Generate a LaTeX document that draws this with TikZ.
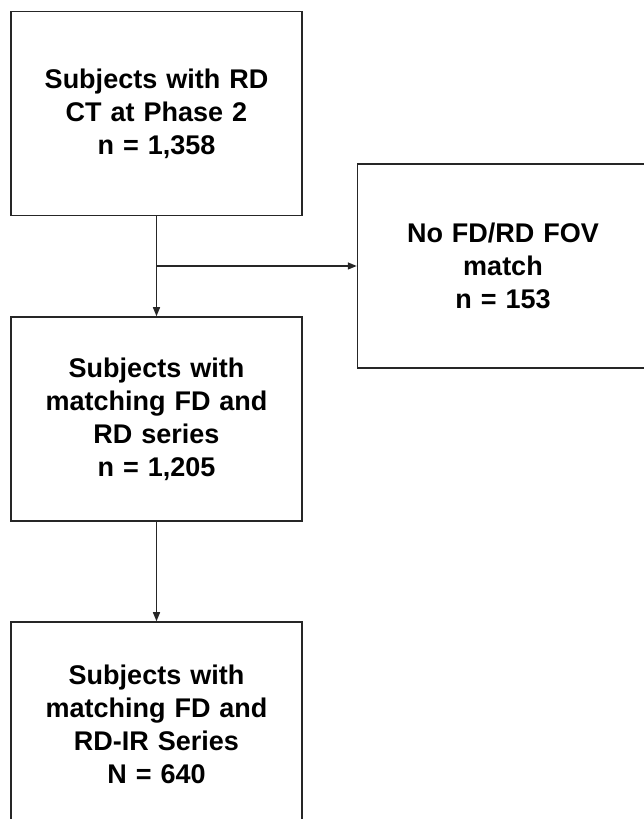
\documentclass[tikz,border=0pt]{standalone}
\usepackage{fontspec}
\setmainfont{Liberation Sans}
\usetikzlibrary{arrows.meta}
\begin{document}
\begin{tikzpicture}[x=1pt,y=1pt,
  flowbox/.style={draw=black!85, line width=1.5pt, minimum width=291pt, minimum height=204pt,
    text width=280pt, align=center, inner sep=0pt,
    font=\fontsize{27}{33}\selectfont\bfseries},
  conn/.style={draw=black!85, line width=1.4pt, -{Triangle[length=9pt,width=7pt]}}]
\useasboundingbox (0,0) rectangle (644,819);
\clip (0,0) rectangle (644,819);
\node[flowbox] (b1) at (156.5,705.5) {Subjects with RD\\CT at Phase 2\\n = 1,358};
\node[flowbox] (b2) at (503,553) {No FD/RD FOV\\match\\n = 153};
\node[flowbox] (b3) at (156.5,400) {Subjects with\\matching FD and\\RD series\\n = 1,205};
\node[flowbox] (b4) at (156.5,95) {Subjects with\\matching FD and\\RD-IR Series\\N = 640};
\coordinate (br) at (b1.south |- b2.west);
\draw[conn] (b1.south) -- (b3.north);
\draw[conn] (br) -- (b2.west);
\draw[conn] (b3.south) -- (b4.north);
\end{tikzpicture}
\end{document}
